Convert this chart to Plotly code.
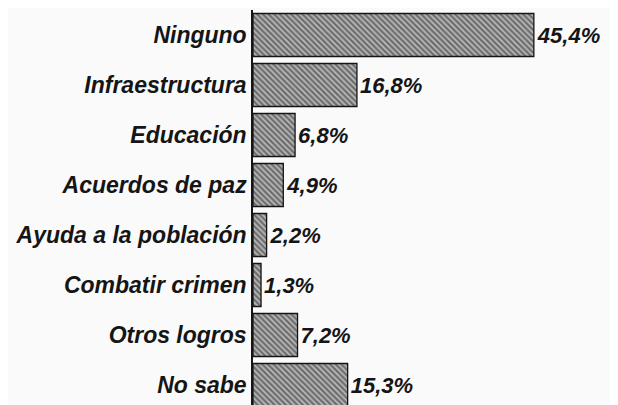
import plotly.graph_objects as go

categories = ["Ninguno", "Infraestructura", "Educación", "Acuerdos de paz",
              "Ayuda a la población", "Combatir crimen", "Otros logros", "No sabe"]
values = [45.4, 16.8, 6.8, 4.9, 2.2, 1.3, 7.2, 15.3]
value_labels = ["45,4%", "16,8%", "6,8%", "4,9%", "2,2%", "1,3%", "7,2%", "15,3%"]

FONT = "Liberation Sans, Arial, Helvetica"

fig = go.Figure(go.Bar(
    x=values, y=categories, orientation="h",
    text=value_labels, textposition="outside", cliponaxis=False,
    textfont=dict(family=FONT, size=22, color="#151515",
                  style="italic", weight="bold"),
    marker=dict(color="#888888",
                line=dict(color="#151515", width=1.3),
                pattern=dict(shape="\\", size=4, solidity=0.6,
                             fgcolor="#1e1e1e", bgcolor="#bdbdbd")),
    width=0.86,
))

fig.update_layout(
    width=610, height=397,
    margin=dict(l=245, r=0, t=2, b=0, autoexpand=False),
    paper_bgcolor="#fafafa", plot_bgcolor="rgba(0,0,0,0)",
    showlegend=False,
    xaxis=dict(range=[0, 59], visible=False, fixedrange=True, automargin=False),
    yaxis=dict(categoryorder="array", categoryarray=categories,
               range=[7.4, -0.5], showline=True, linecolor="#151515", linewidth=1.5,
               ticks="", showgrid=False, ticklabelstandoff=0, automargin=False,
               tickfont=dict(family=FONT, size=23, color="#151515",
                             style="italic", weight="bold")),
)

fig.write_html("out.html", config={"displayModeBar": False})
